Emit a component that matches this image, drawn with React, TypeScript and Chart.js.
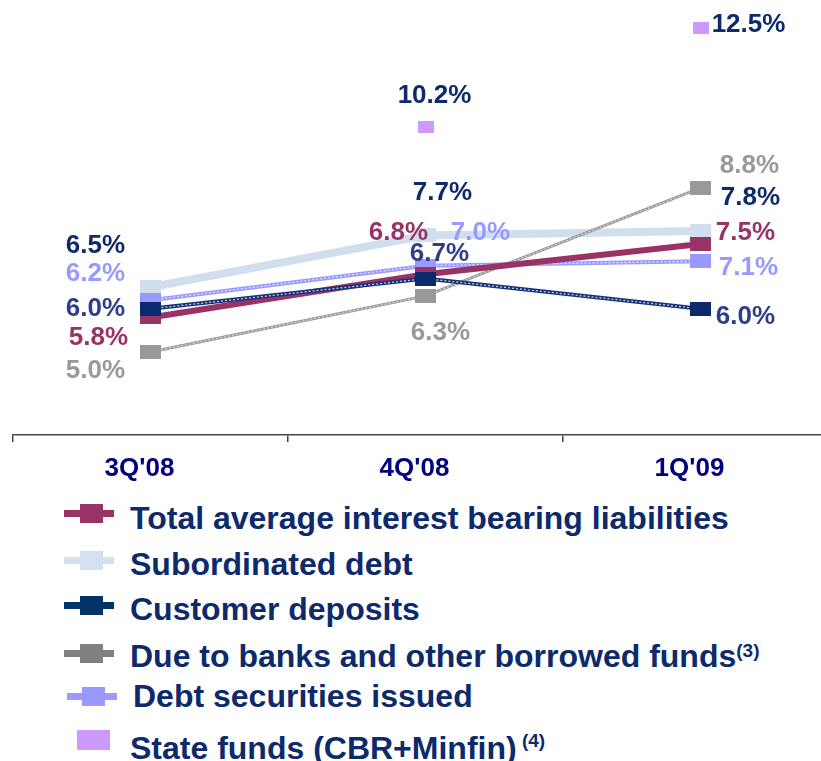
import React, { useEffect, useRef } from 'react';
import { Chart, registerables } from 'chart.js';

Chart.register(...registerables);

// ---------- data ----------
const categories = ["3Q'08", "4Q'08", "1Q'09"];
const totalLiabilities = [5.8, 6.8, 7.5];
const subordinatedDebt = [6.5, 7.7, 7.8];
const customerDeposits = [6.0, 6.7, 6.0];
const dueToBanks = [5.0, 6.3, 8.8];
const debtSecurities = [6.2, 7.0, 7.1];
const stateFunds: (number | null)[] = [null, 10.2, 12.5];

const seriesNames = [
  'Total average interest bearing liabilities',
  'Subordinated debt',
  'Customer deposits',
  'Due to banks and other borrowed funds',
  'Debt securities issued',
  'State funds (CBR+Minfin)',
];
const legendNotes = ['', '', '', '(3)', '', '(4)'];

// ---------- style ----------
const FONT = '"Liberation Sans", Arial, Helvetica, sans-serif';
const NAVY_TEXT = '#0D2A6B';

// per-point label offsets (px) relative to the drawn point
const labelOffsets = {
  total: [[-52, 20], [-27, -41], [45, -11]],
  sub: [[-55, -41], [17, -43], [50, -33]],
  customer: [[-55, 0], [14, -25], [45, 8]],
  due: [[-55, 19], [15, 37], [49, -22]],
  debt: [[-55, -26], [55, -33], [48, 6]],
  state: [[0, 0], [9, -32], [48, -3]],
};

const legendLayout = [
  { markerY: 513, baseline: 529, line: [64, 114], rectX: 91, rectW: 23, rectH: 19, textX: 130, color: '#993366', lineColor: '#993366', supRaise: 10 },
  { markerY: 560, baseline: 575, line: [64, 114], rectX: 91, rectW: 23, rectH: 19, textX: 130, color: '#D3E0EF', lineColor: '#D3E0EF', supRaise: 10 },
  { markerY: 605, baseline: 620, line: [64, 114], rectX: 91, rectW: 23, rectH: 19, textX: 130, color: '#003366', lineColor: '#003366', supRaise: 10 },
  { markerY: 653, baseline: 667, line: [64, 114], rectX: 91, rectW: 23, rectH: 19, textX: 130, color: '#808080', lineColor: '#808080', supRaise: 10 },
  { markerY: 696, baseline: 707, line: [67, 117], rectX: 93, rectW: 23, rectH: 19, textX: 133, color: '#9999FF', lineColor: '#9999FF', supRaise: 10 },
  { markerY: 740, baseline: 759, line: null, rectX: 93, rectW: 33, rectH: 20, textX: 130, color: '#CC99FF', lineColor: '', supRaise: 12 },
];

function rectStyle(color: string, w: number, h: number) {
  const c = document.createElement('canvas');
  c.width = w;
  c.height = h;
  const ctx = c.getContext('2d')!;
  ctx.fillStyle = color;
  ctx.fillRect(0, 0, w, h);
  return c;
}

const dataLabelPlugin = {
  id: 'dataLabels',
  afterDatasetsDraw(chart: any) {
    const ctx = chart.ctx;
    ctx.save();
    ctx.font = `bold 26px ${FONT}`;
    ctx.textAlign = 'center';
    ctx.textBaseline = 'middle';
    chart.data.datasets.forEach((ds: any, di: number) => {
      const meta = chart.getDatasetMeta(di);
      ds.data.forEach((v: number | null, i: number) => {
        if (v === null || v === undefined) return;
        const pt = meta.data[i];
        const off = ds.labelOffsets[i];
        ctx.fillStyle = ds.labelColor;
        ctx.fillText(v.toFixed(1) + '%', pt.x + off[0], pt.y + off[1]);
      });
    });
    ctx.restore();
  },
};

const chainPlugin = {
  id: 'chainLines',
  afterDatasetDraw(chart: any, args: any) {
    const ds = chart.data.datasets[args.index];
    if (!ds.chain) return;
    const pts = args.meta.data;
    const ctx = chart.ctx;
    ctx.save();
    ctx.strokeStyle = 'rgba(255,255,255,0.75)';
    ctx.lineWidth = ds.chainWidth;
    ctx.setLineDash([2, 2]);
    for (let i = 0; i < pts.length - 1; i++) {
      const a = pts[i];
      const b = pts[i + 1];
      const dx = b.x - a.x;
      const dy = b.y - a.y;
      const len = Math.hypot(dx, dy);
      const ux = dx / len;
      const uy = dy / len;
      const cut = 11;
      ctx.beginPath();
      ctx.moveTo(a.x + ux * cut, a.y + uy * cut);
      ctx.lineTo(b.x - ux * cut, b.y - uy * cut);
      ctx.stroke();
    }
    ctx.restore();
  },
};

function LineChart() {
  const ref = useRef<HTMLCanvasElement>(null);
  useEffect(() => {
    if (!ref.current) return;
    const mk = (c: string) => rectStyle(c, 21, 14);
    const chart = new Chart(ref.current, {
      type: 'line',
      data: {
        labels: categories,
        datasets: [
          {
            label: seriesNames[0], data: totalLiabilities, borderColor: '#993366', borderWidth: 6,
            pointStyle: mk('#993366') as any, pointRadius: 10, order: 2,
            labelOffsets: labelOffsets.total, labelColor: '#993366',
          } as any,
          {
            label: seriesNames[1], data: subordinatedDebt, borderColor: '#D0DEEE', borderWidth: 8,
            pointStyle: mk('#D0DEEE') as any, pointRadius: 10, order: 5,
            labelOffsets: labelOffsets.sub, labelColor: NAVY_TEXT,
          } as any,
          {
            label: seriesNames[2], data: customerDeposits, borderColor: '#16307A', borderWidth: 4,
            pointStyle: mk('#0B2A6E') as any, pointRadius: 10, order: 1,
            labelOffsets: labelOffsets.customer, labelColor: '#2F3E8C', chain: true, chainWidth: 1.3,
          } as any,
          {
            label: seriesNames[3], data: dueToBanks, borderColor: '#9A9A9A', borderWidth: 3,
            pointStyle: mk('#999999') as any, pointRadius: 10, order: 3,
            labelOffsets: labelOffsets.due, labelColor: '#999999', chain: true, chainWidth: 1,
          } as any,
          {
            label: seriesNames[4], data: debtSecurities, borderColor: '#9999FF', borderWidth: 4,
            pointStyle: mk('#9999FF') as any, pointRadius: 10, order: 4,
            labelOffsets: labelOffsets.debt, labelColor: '#9999FF', chain: true, chainWidth: 1.3,
          } as any,
          {
            label: seriesNames[5], data: stateFunds, showLine: false, borderColor: '#CC99FF',
            pointStyle: rectStyle('#CC99FF', 16, 12) as any, pointRadius: 8, order: 0,
            labelOffsets: labelOffsets.state, labelColor: NAVY_TEXT,
          } as any,
        ],
      },
      options: {
        animation: false,
        responsive: false,
        maintainAspectRatio: false,
        events: [],
        layout: { autoPadding: false, padding: { top: 3, left: 13, right: 12, bottom: 0 } },
        elements: { line: { tension: 0 } },
        plugins: { legend: { display: false }, tooltip: { enabled: false } },
        scales: {
          x: {
            type: 'category',
            offset: true,
            grid: { display: true, drawOnChartArea: false, drawTicks: true, tickLength: 7, color: '#444444', offset: true, lineWidth: 1.5 },
            border: { display: true, color: '#444444', width: 1.5 },
            ticks: {
              color: '#000080',
              font: { family: FONT, size: 26, weight: 'bold' },
              padding: 11,
              labelOffset: -11,
              maxRotation: 0,
              autoSkip: false,
            },
            afterFit: (s: any) => { s.height = 65; },
          } as any,
          y: { display: false, min: 3.08, max: 13.08 },
        },
      },
      plugins: [chainPlugin, dataLabelPlugin],
    });
    return () => chart.destroy();
  }, []);
  return (
    <canvas
      ref={ref}
      width={850}
      height={500}
      style={{ position: 'absolute', left: 0, top: 0, width: 850, height: 500 }}
    />
  );
}

function Legend() {
  const fs = 32;
  return (
    <>
      {legendLayout.map((row, i) => (
        <React.Fragment key={i}>
          {row.line && (
            <div style={{
              position: 'absolute', left: row.line[0], top: row.markerY - 3.5,
              width: row.line[1] - row.line[0], height: 7, background: row.lineColor,
            }} />
          )}
          <div style={{
            position: 'absolute', left: row.rectX - row.rectW / 2, top: row.markerY - row.rectH / 2,
            width: row.rectW, height: row.rectH, background: row.color,
          }} />
          <div style={{
            position: 'absolute', left: row.textX, top: row.baseline - fs * 0.8465,
            fontFamily: FONT, fontWeight: 'bold', fontSize: fs, lineHeight: `${fs}px`,
            color: NAVY_TEXT, whiteSpace: 'nowrap',
          }}>
            {seriesNames[i]}
            {legendNotes[i] && (
              <span style={{ fontSize: 19, position: 'relative', top: -row.supRaise }}>
                {i === 5 ? ' ' : ''}
                {legendNotes[i]}
              </span>
            )}
          </div>
        </React.Fragment>
      ))}
    </>
  );
}

export default function App() {
  return (
    <div style={{ position: 'absolute', left: 0, top: 0, width: 821, height: 761, overflow: 'hidden', background: '#fff' }}>
      <LineChart />
      <Legend />
    </div>
  );
}
